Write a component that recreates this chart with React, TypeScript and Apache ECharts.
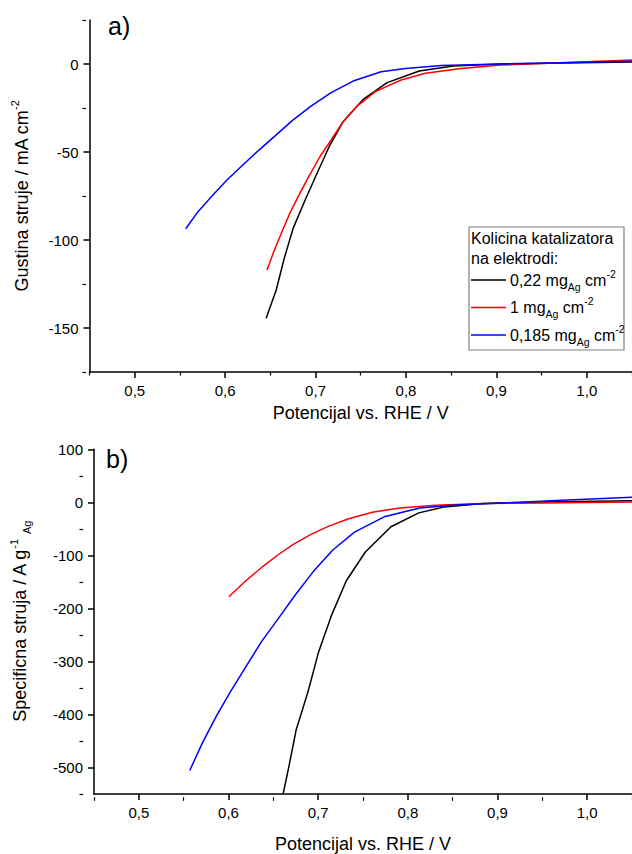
import React, { useEffect, useRef } from "react";
import * as echarts from "echarts";

// ---------- data ----------
const potentialTicks = [0.5, 0.6, 0.7, 0.8, 0.9, 1.0];
const potentialMinor = [0.45, 0.55, 0.65, 0.75, 0.85, 0.95, 1.05];
const densityTicks = [-150, -100, -50, 0];
const densityMinor = [-175, -125, -75, -25, 25];
const specificTicks = [-500, -400, -300, -200, -100, 0, 100];
const specificMinor = [-550, -450, -350, -250, -150, -50, 50];

// panel a: current density / mA cm-2
const densityBlack: [number, number][] = [
  [0.6454, -144.5], [0.6565, -128.4], [0.6654, -110.4], [0.6752, -93.4], [0.6885, -77.3],
  [0.7017, -62.1], [0.715, -47.0], [0.7305, -32.8], [0.7526, -20.1], [0.7792, -10.6],
  [0.8147, -4.0], [0.8523, -1.1], [0.905, 0.0], [0.972, 0.6], [1.05, 1.1],
];
const densityRed: [number, number][] = [
  [0.6463, -117.0], [0.6543, -106.0], [0.6632, -94.9], [0.672, -84.3], [0.6826, -73.5],
  [0.6929, -63.6], [0.7048, -52.7], [0.7172, -43.2], [0.7305, -32.8], [0.746, -23.9],
  [0.766, -15.7], [0.7947, -9.1], [0.8213, -5.3], [0.8612, -2.5], [0.905, -0.6],
  [0.972, 0.7], [1.05, 2.3],
];
const densityBlue: [number, number][] = [
  [0.5564, -93.6], [0.570, -83.9], [0.5865, -74.4], [0.602, -65.9], [0.6207, -56.8],
  [0.6374, -48.9], [0.6565, -40.3], [0.6742, -32.2], [0.695, -23.9], [0.7172, -16.3],
  [0.7416, -9.7], [0.7725, -4.4], [0.7992, -2.5], [0.839, -0.8], [0.905, 0.0],
  [0.972, 0.7], [1.05, 1.5],
];

// panel b: specific current / A g-1 Ag
const specificBlack: [number, number][] = [
  [0.6609, -550], [0.6667, -503.7], [0.6755, -428.8], [0.6887, -356.9], [0.7005, -282.0],
  [0.7151, -212.2], [0.7314, -147.9], [0.7526, -93.6], [0.7812, -46.1], [0.8122, -19.9],
  [0.8408, -8.6], [0.8838, -2.4], [0.9499, 0.7], [1.05, 3.2],
];
const specificRed: [number, number][] = [
  [0.6004, -177.9], [0.6193, -147.9], [0.637, -122.8], [0.6546, -99.8], [0.6722, -79.2],
  [0.6921, -60.5], [0.7119, -44.9], [0.7339, -31.1], [0.7604, -18.7], [0.7912, -10.5],
  [0.8309, -5.6], [0.8838, -2.4], [0.9499, -1.1], [1.05, 0.7],
];
const specificBlue: [number, number][] = [
  [0.5568, -505.6], [0.5709, -453.7], [0.5863, -403.7], [0.6017, -358.2], [0.6193, -310.1],
  [0.637, -262.2], [0.6559, -218.4], [0.6744, -174.7], [0.6943, -131.1], [0.7163, -89.9],
  [0.7405, -56.2], [0.7736, -27.3], [0.8133, -10.5], [0.8528, -4.9], [0.9057, -1.1],
  [0.9718, 3.7], [1.05, 9.4],
];

const legendTitle = ["Kolicina katalizatora", "na elektrodi:"];
const legendItems = [
  { color: "#000000", label: "0,22 mg{sub|Ag} cm{sup|-2}" },
  { color: "#ff0000", label: "1 mg{sub|Ag} cm{sup|-2}" },
  { color: "#0000ff", label: "0,185 mg{sub|Ag} cm{sup|-2}" },
];

const FONT = "'Liberation Sans', Arial, sans-serif";

export default function App() {
  const ref = useRef<HTMLDivElement>(null);

  useEffect(() => {
    if (!ref.current) return;
    const chart = echarts.init(ref.current, undefined, { renderer: "svg" });

    const grids = [
      { left: 89.5, right: -3.5, top: 20, height: 352 },
      { left: 87, right: -4, top: 449.3, height: 348 },
    ];
    const gridW = (g: { left: number; right: number }) => 632 - g.left - g.right;

    const axisLine = { show: true, onZero: false, lineStyle: { color: "#000", width: 1.5 } };
    const labelStyle = { color: "#000", fontSize: 15, fontFamily: FONT };
    const richSS = {
      sup: { fontSize: 11, fontFamily: FONT, color: "#000", verticalAlign: "top" as const, lineHeight: 24 },
      sub: { fontSize: 11, fontFamily: FONT, color: "#000", verticalAlign: "bottom" as const, lineHeight: 24 },
    };
    const nameStyle = { color: "#000", fontSize: 18, fontFamily: FONT, lineHeight: 24, rich: richSS };
    const fmtX = (v: number) => v.toFixed(1).replace(".", ",");

    const xMajor = (grid: number, gap: number) => ({
      type: "value", gridIndex: grid, min: 0.45, max: 1.05, position: "bottom",
      axisLine, splitLine: { show: false },
      axisTick: { show: true, inside: false, length: 6, customValues: potentialTicks, lineStyle: { color: "#000", width: 1.5 } },
      axisLabel: { show: true, margin: 11, customValues: potentialTicks, formatter: fmtX, ...labelStyle },
      name: "Potencijal vs. RHE / V", nameLocation: "middle", nameGap: gap,
      nameTextStyle: { color: "#000", fontSize: 18, fontFamily: FONT },
    });
    // minor ticks: a "top" axis shifted down onto the bottom axis line, ticks drawn inward (= downward)
    const xMinor = (grid: number) => ({
      type: "value", gridIndex: grid, min: 0.45, max: 1.05, position: "top", offset: -grids[grid].height,
      axisLine: { show: false, onZero: false }, splitLine: { show: false }, axisLabel: { show: false },
      axisTick: { show: true, inside: true, length: 3.5, customValues: potentialMinor, lineStyle: { color: "#000", width: 1.2 } },
    });
    const yMajor = (grid: number, min: number, max: number, ticks: number[], name: string, gap: number) => ({
      type: "value", gridIndex: grid, min, max, position: "left",
      axisLine, splitLine: { show: false },
      axisTick: { show: true, inside: false, length: 6, customValues: ticks, lineStyle: { color: "#000", width: 1.5 } },
      axisLabel: { show: true, margin: 11, customValues: ticks, ...labelStyle },
      name, nameLocation: "middle", nameGap: gap, nameRotate: 90, nameTextStyle: nameStyle,
    });
    // minor ticks: a "right" axis shifted left onto the left axis line, ticks drawn inward (= leftward)
    const yMinor = (grid: number, min: number, max: number, ticks: number[]) => ({
      type: "value", gridIndex: grid, min, max, position: "right", offset: -gridW(grids[grid]),
      axisLine: { show: false, onZero: false }, splitLine: { show: false }, axisLabel: { show: false },
      axisTick: { show: true, inside: true, length: 3.5, customValues: ticks, lineStyle: { color: "#000", width: 1.2 } },
    });

    const line = (data: [number, number][], color: string, xi: number, yi: number) => ({
      type: "line", data, xAxisIndex: xi, yAxisIndex: yi, showSymbol: false, symbol: "none",
      smooth: false, clip: true, lineStyle: { color, width: 1.5 }, itemStyle: { color },
      emphasis: { disabled: true }, silent: true,
    });

    const legendX = 469, legendY = 227, legendW = 155, legendH = 123;
    const legendGraphics: any[] = [
      { type: "rect", shape: { x: legendX, y: legendY, width: legendW, height: legendH },
        style: { fill: "#fff", stroke: "#808080", lineWidth: 1.2 }, z: 100 },
    ];
    legendTitle.forEach((t, i) => {
      legendGraphics.push({ type: "text", x: legendX + 2, y: legendY + 11 + i * 20, z: 101,
        style: { text: t, fill: "#000", font: `16px ${FONT}`, verticalAlign: "middle", align: "left" } });
    });
    legendItems.forEach((it, i) => {
      const yy = legendY + 53 + i * 27.5;
      legendGraphics.push({ type: "line", z: 101, shape: { x1: legendX + 2, y1: yy, x2: legendX + 37, y2: yy },
        style: { stroke: it.color, lineWidth: 1.5 } });
      legendGraphics.push({ type: "text", x: legendX + 41, y: yy, z: 101,
        style: { text: it.label, fill: "#000", font: `16px ${FONT}`, fontSize: 16, fontFamily: FONT,
          verticalAlign: "middle", align: "left", lineHeight: 24,
          rich: {
            sup: { fontSize: 10.5, fontFamily: FONT, fill: "#000", verticalAlign: "top", lineHeight: 24 },
            sub: { fontSize: 10.5, fontFamily: FONT, fill: "#000", verticalAlign: "bottom", lineHeight: 24 },
          } } });
    });

    chart.setOption({
      animation: false,
      backgroundColor: "#fff",
      textStyle: { fontFamily: FONT },
      grid: grids.map((g) => ({ ...g, containLabel: false })),
      xAxis: [xMajor(0, 32), xMinor(0), xMajor(1, 41), xMinor(1)],
      yAxis: [
        yMajor(0, -175, 25, densityTicks, "Gustina struje / mA cm{sup|-2}", 56),
        yMinor(0, -175, 25, densityMinor),
        yMajor(1, -550, 100, specificTicks, "Specificna struja / A g{sup|-1} {sub|Ag}", 62),
        yMinor(1, -550, 100, specificMinor),
      ],
      series: [
        line(densityBlack, "#000000", 0, 0),
        line(densityRed, "#ff0000", 0, 0),
        line(densityBlue, "#0000ff", 0, 0),
        line(specificBlack, "#000000", 2, 2),
        line(specificRed, "#ff0000", 2, 2),
        line(specificBlue, "#0000ff", 2, 2),
      ],
      graphic: [
        { type: "text", x: 108, y: 26, style: { text: "a)", fill: "#000", font: `25px ${FONT}`, verticalAlign: "middle" } },
        { type: "text", x: 106, y: 459, style: { text: "b)", fill: "#000", font: `25px ${FONT}`, verticalAlign: "middle" } },
        ...legendGraphics,
      ],
    });

    return () => chart.dispose();
  }, []);

  return (
    <div
      ref={ref}
      style={{ position: "absolute", left: 0, top: 0, width: 632, height: 854, overflow: "hidden", background: "#fff" }}
    />
  );
}
